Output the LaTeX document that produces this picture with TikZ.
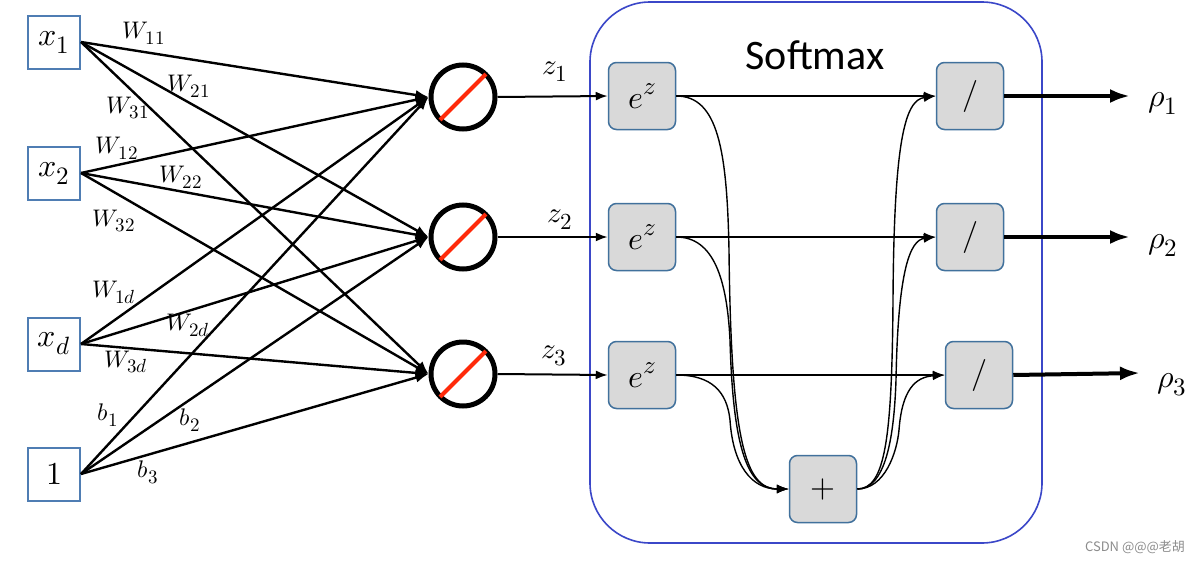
\documentclass[tikz,border=0pt]{standalone}
\usepackage{fontspec}
\usepackage{unicode-math}
\newfontfamily\cjk{Noto Sans CJK SC}
\newfontfamily\calib{Carlito}
\DeclareMathSizes{24}{24}{19}{15}
\DeclareMathSizes{29}{29}{23}{18}
\DeclareMathSizes{32}{32}{25}{20}
\usetikzlibrary{arrows.meta}
\definecolor{inblue}{HTML}{4F7DB3}
\definecolor{gbox}{HTML}{D9D9D9}
\definecolor{gedge}{HTML}{41719C}
\definecolor{smblue}{HTML}{3B47C8}
\definecolor{slred}{HTML}{FF2A0A}
\newcommand{\expz}{$e$\raisebox{0.42em}{\fontsize{25}{28}\selectfont$z$}}
\begin{document}
\begin{tikzpicture}[x=1pt,y=-1pt,
  inbox/.style={draw=inblue,line width=2,minimum width=52,minimum height=53,inner sep=0,font=\fontsize{32}{36}\selectfont},
  neuron/.style={circle,draw=black,line width=5,minimum size=64,inner sep=0},
  redbar/.style={draw=slred,line width=4,shorten <=2pt,shorten >=2pt},
  wline/.style={line width=2.4,-{Latex[length=13pt,width=10pt]}},
  wlab/.style={font=\fontsize{24}{28}\selectfont,inner sep=0},
  zlab/.style={font=\fontsize{29}{32}\selectfont,inner sep=0},
  gbx/.style={draw=gedge,fill=gbox,line width=1.5,rounded corners=8,minimum width=67,minimum height=67,inner sep=0,font=\fontsize{32}{36}\selectfont},
  zline/.style={line width=2,-{Latex[length=12pt,width=9pt]}},
  thin/.style={line width=1.4,-{Latex[length=12pt,width=9pt]}},
  outline/.style={line width=4,-{Latex[length=20pt,width=14pt]}},
  rlab/.style={font=\fontsize{32}{36}\selectfont,inner sep=0}
]
\useasboundingbox (0,0) rectangle (1192,562);
\fill[white] (0,0) rectangle (1192,562);

% softmax frame
\node[draw=smblue,line width=1.6,rounded corners=60,minimum width=452,minimum height=541,inner sep=0] (sm) at (816,272.5) {};
\node[font=\calib\fontsize{42}{48}\selectfont,inner sep=0] (smlabel) at (815,55) {Softmax};

% inputs
\node[inbox] (x1) at (54,42) {$x_1$};
\node[inbox] (x2) at (54,173) {$x_2$};
\node[inbox] (xd) at (54,344) {$x_d$};
\node[inbox] (one) at (54,474) {$1$};

% neurons
\node[neuron] (c1) at (463,97) {};
\node[neuron] (c2) at (463,237) {};
\node[neuron] (c3) at (463,374) {};
\foreach \c in {c1,c2,c3} \draw[redbar] (\c.225) -- (\c.45);

% weight lines
\foreach \s in {x1,x2,xd,one}
  \foreach \t in {c1,c2,c3}
    \draw[wline] (\s.east) -- (\t.west);

% weight labels
\node[wlab] (w11) at (144,33) {$W_{11}$};
\node[wlab] (w21) at (189,86) {$W_{21}$};
\node[wlab] (w31) at (128,108) {$W_{31}$};
\node[wlab] (w12) at (117,148) {$W_{12}$};
\node[wlab] (w22) at (181,177) {$W_{22}$};
\node[wlab] (w32) at (114,221) {$W_{32}$};
\node[wlab] (w1d) at (114,292) {$W_{1d}$};
\node[wlab] (w2d) at (188,325) {$W_{2d}$};
\node[wlab] (w3d) at (126,362) {$W_{3d}$};
\node[wlab] (b1) at (108,415) {$b_1$};
\node[wlab] (b2) at (190,420) {$b_2$};
\node[wlab] (b3) at (148,472) {$b_3$};

% softmax boxes
\node[gbx] (e1) at (642,96) {\expz};
\node[gbx] (e2) at (642,237) {\expz};
\node[gbx] (e3) at (642,375) {\expz};
\node[gbx] (s1) at (970,96) {$/$};
\node[gbx] (s2) at (970,237) {$/$};
\node[gbx] (s3) at (979,375) {$/$};
\node[gbx] (plus) at (823,489) {$+$};

% z arrows
\draw[zline] (c1.east) -- (e1.west);
\draw[zline] (c2.east) -- (e2.west);
\draw[zline] (c3.east) -- (e3.west);
\node[zlab] (z1) at (555,72) {$z_1$};
\node[zlab] (z2) at (560,220) {$z_2$};
\node[zlab] (z3) at (554,356) {$z_3$};

% straight e -> /
\draw[thin] (e1.east) -- (s1.west);
\draw[thin] (e2.east) -- (s2.west);
\draw[thin] (e3.east) -- (s3.west);

% e -> +
\draw[thin] (e1.east) .. controls (718,96) and (727,150) .. (729,250)
   .. controls (731,440) and (745,489) .. (plus.west);
\draw[thin] (e2.east) .. controls (714,237) and (727,280) .. (730,340)
   .. controls (733,450) and (748,489) .. (plus.west);
\draw[thin] (e3.east) .. controls (712,375) and (727,392) .. (730,420)
   .. controls (733,466) and (752,489) .. (plus.west);

% + -> /
\draw[thin] (plus.east) .. controls (885,489) and (892,440) .. (893,300)
   .. controls (894,140) and (905,100) .. (s1.west);
\draw[thin] (plus.east) .. controls (885,489) and (894,440) .. (896,380)
   .. controls (898,270) and (910,240) .. (s2.west);
\draw[thin] (plus.east) .. controls (885,489) and (897,452) .. (899,430)
   .. controls (902,390) and (915,377) .. (s3.west);

% outputs
\coordinate (o1) at (1130,96);
\coordinate (o2) at (1130,237);
\coordinate (o3) at (1140,373);
\draw[outline] (s1.east) -- (o1);
\draw[outline] (s2.east) -- (o2);
\draw[outline] (s3.east) -- (o3);
\node[rlab] (r1) at (1163,103) {$\rho_1$};
\node[rlab] (r2) at (1163,245) {$\rho_2$};
\node[rlab] (r3) at (1172,385) {$\rho_3$};

% watermark
\node[font=\cjk\fontsize{13}{15}\selectfont,text=black!45,inner sep=0] (wm) at (1135,547) {CSDN @@@老胡};
\end{tikzpicture}
\end{document}
